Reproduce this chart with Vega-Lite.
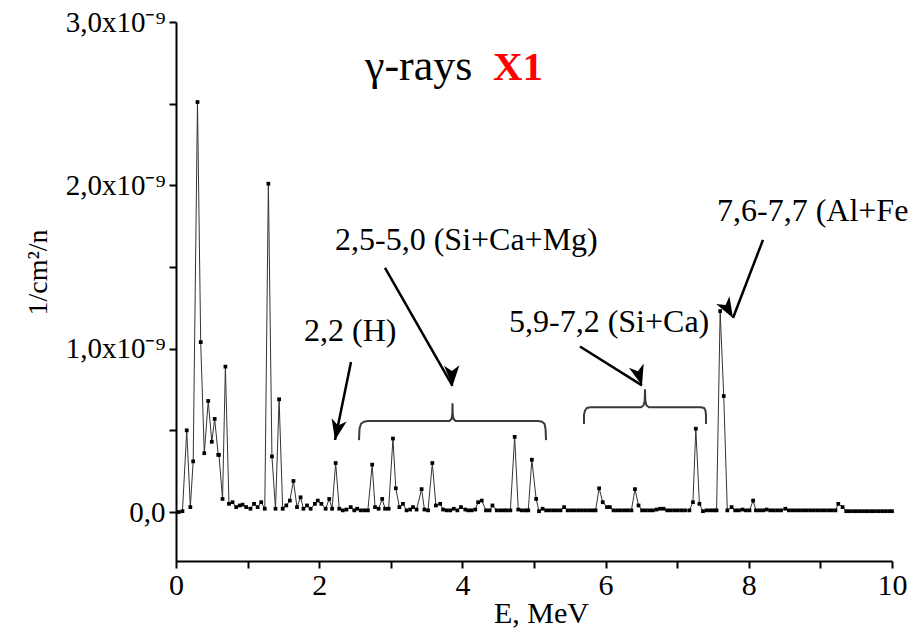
{
  "$schema": "https://vega.github.io/schema/vega-lite/v6.json",
  "width": 716,
  "height": 539,
  "autosize": {"type": "none"},
  "padding": {"left": 176, "top": 22, "right": 16, "bottom": 69},
  "background": "#ffffff",
  "config": {
    "view": {"stroke": null},
    "font": "Liberation Serif",
    "axis": {
      "grid": false,
      "domainColor": "#000000",
      "domainWidth": 2,
      "tickColor": "#000000",
      "tickWidth": 2,
      "tickSize": 7,
      "labelFont": "Liberation Serif",
      "labelColor": "#000000",
      "labelFlush": false,
      "labelOverlap": false,
      "titleFont": "Liberation Serif",
      "titleColor": "#000000",
      "titleFontWeight": "normal"
    }
  },
  "datasets": {
    "spectrum": [
      {"E": 0.04, "F": 0}, {"E": 0.09, "F": 5e-12}, {"E": 0.15, "F": 5.0e-10}, {"E": 0.2, "F": 3e-11},
      {"E": 0.24, "F": 3.1e-10}, {"E": 0.3, "F": 2.51e-9}, {"E": 0.345, "F": 1.04e-9}, {"E": 0.395, "F": 3.6e-10},
      {"E": 0.45, "F": 6.8e-10}, {"E": 0.5, "F": 4.3e-10}, {"E": 0.54, "F": 5.7e-10}, {"E": 0.59, "F": 3.5e-10},
      {"E": 0.6, "F": 3.5e-10}, {"E": 0.65, "F": 8e-11}, {"E": 0.69, "F": 8.9e-10}, {"E": 0.74, "F": 5e-11},
      {"E": 0.79, "F": 6e-11}, {"E": 0.84, "F": 3e-11}, {"E": 0.89, "F": 4e-11}, {"E": 0.93, "F": 4.5e-11},
      {"E": 0.98, "F": 3e-11}, {"E": 1.04, "F": 2e-11}, {"E": 1.09, "F": 5e-11}, {"E": 1.14, "F": 3e-11},
      {"E": 1.19, "F": 6e-11}, {"E": 1.24, "F": 2e-11}, {"E": 1.29, "F": 2.01e-9}, {"E": 1.34, "F": 3.4e-10},
      {"E": 1.39, "F": 2e-11}, {"E": 1.44, "F": 6.9e-10}, {"E": 1.49, "F": 2e-11}, {"E": 1.54, "F": 4e-11},
      {"E": 1.59, "F": 7e-11}, {"E": 1.64, "F": 1.9e-10}, {"E": 1.69, "F": 3e-11}, {"E": 1.74, "F": 9e-11},
      {"E": 1.78, "F": 2e-11}, {"E": 1.83, "F": 4e-11}, {"E": 1.88, "F": 2e-11}, {"E": 1.94, "F": 5e-11},
      {"E": 1.98, "F": 7e-11}, {"E": 2.03, "F": 5e-11}, {"E": 2.09, "F": 2e-11}, {"E": 2.14, "F": 8e-11},
      {"E": 2.18, "F": 2e-11}, {"E": 2.23, "F": 3.0e-10}, {"E": 2.28, "F": 2e-11}, {"E": 2.33, "F": 1e-11},
      {"E": 2.38, "F": 1.5e-11}, {"E": 2.44, "F": 3e-11}, {"E": 2.49, "F": 1e-11}, {"E": 2.53, "F": 2e-11},
      {"E": 2.58, "F": 1e-11}, {"E": 2.63, "F": 1e-11}, {"E": 2.68, "F": 1e-11}, {"E": 2.74, "F": 2.9e-10},
      {"E": 2.78, "F": 3e-11}, {"E": 2.83, "F": 2e-11}, {"E": 2.88, "F": 8e-11}, {"E": 2.92, "F": 2e-11},
      {"E": 2.97, "F": 2e-11}, {"E": 3.03, "F": 4.5e-10}, {"E": 3.07, "F": 1.45e-10}, {"E": 3.12, "F": 3e-11},
      {"E": 3.17, "F": 5e-11}, {"E": 3.22, "F": 1e-11}, {"E": 3.27, "F": 1.5e-11}, {"E": 3.31, "F": 3e-11},
      {"E": 3.36, "F": 1.5e-11}, {"E": 3.43, "F": 1.4e-10}, {"E": 3.47, "F": 1.5e-11}, {"E": 3.52, "F": 1e-11},
      {"E": 3.58, "F": 3.0e-10}, {"E": 3.63, "F": 4e-11}, {"E": 3.69, "F": 5e-11}, {"E": 3.73, "F": 1.5e-11},
      {"E": 3.78, "F": 1e-11}, {"E": 3.83, "F": 1e-11}, {"E": 3.88, "F": 2e-11}, {"E": 3.93, "F": 1e-11},
      {"E": 3.98, "F": 3e-11}, {"E": 4.04, "F": 1.5e-11}, {"E": 4.08, "F": 1e-11}, {"E": 4.13, "F": 1e-11},
      {"E": 4.18, "F": 1.5e-11}, {"E": 4.22, "F": 6e-11}, {"E": 4.27, "F": 7e-11}, {"E": 4.33, "F": 1e-11},
      {"E": 4.38, "F": 1e-11}, {"E": 4.42, "F": 4e-11}, {"E": 4.48, "F": 1e-11}, {"E": 4.53, "F": 1e-11},
      {"E": 4.58, "F": 1e-11}, {"E": 4.62, "F": 1e-11}, {"E": 4.67, "F": 1e-11}, {"E": 4.73, "F": 4.6e-10},
      {"E": 4.78, "F": 1.5e-11}, {"E": 4.83, "F": 1e-11}, {"E": 4.88, "F": 1e-11}, {"E": 4.92, "F": 1e-11},
      {"E": 4.97, "F": 3.2e-10}, {"E": 5.03, "F": 8e-11}, {"E": 5.07, "F": 5e-12}, {"E": 5.12, "F": 2e-11},
      {"E": 5.17, "F": 1e-11}, {"E": 5.22, "F": 1e-11}, {"E": 5.27, "F": 1e-11}, {"E": 5.32, "F": 1e-11},
      {"E": 5.37, "F": 1e-11}, {"E": 5.42, "F": 3e-11}, {"E": 5.47, "F": 1e-11}, {"E": 5.52, "F": 1e-11},
      {"E": 5.57, "F": 1e-11}, {"E": 5.62, "F": 1e-11}, {"E": 5.67, "F": 1e-11}, {"E": 5.72, "F": 1e-11},
      {"E": 5.77, "F": 1e-11}, {"E": 5.82, "F": 1e-11}, {"E": 5.86, "F": 1e-11}, {"E": 5.91, "F": 1.45e-10},
      {"E": 5.96, "F": 6e-11}, {"E": 6.02, "F": 3e-11}, {"E": 6.06, "F": 3e-11}, {"E": 6.11, "F": 1e-11},
      {"E": 6.16, "F": 1e-11}, {"E": 6.21, "F": 1e-11}, {"E": 6.26, "F": 1e-11}, {"E": 6.31, "F": 1e-11},
      {"E": 6.36, "F": 1e-11}, {"E": 6.41, "F": 1.4e-10}, {"E": 6.46, "F": 4e-11}, {"E": 6.51, "F": 1e-11},
      {"E": 6.56, "F": 1e-11}, {"E": 6.61, "F": 1e-11}, {"E": 6.66, "F": 1e-11}, {"E": 6.71, "F": 1.5e-11},
      {"E": 6.76, "F": 2e-11}, {"E": 6.81, "F": 2e-11}, {"E": 6.86, "F": 1e-11}, {"E": 6.91, "F": 1e-11},
      {"E": 6.96, "F": 1e-11}, {"E": 7.01, "F": 1e-11}, {"E": 7.06, "F": 1e-11}, {"E": 7.11, "F": 1e-11},
      {"E": 7.17, "F": 1e-11}, {"E": 7.22, "F": 6e-11}, {"E": 7.26, "F": 5.1e-10}, {"E": 7.31, "F": 5e-11},
      {"E": 7.36, "F": 5e-12}, {"E": 7.41, "F": 1e-11}, {"E": 7.46, "F": 1e-11}, {"E": 7.51, "F": 1e-11},
      {"E": 7.55, "F": 1e-11}, {"E": 7.6, "F": 1.23e-9}, {"E": 7.65, "F": 7.1e-10}, {"E": 7.7, "F": 1e-11},
      {"E": 7.76, "F": 3e-11}, {"E": 7.81, "F": 1e-11}, {"E": 7.86, "F": 1e-11}, {"E": 7.91, "F": 1.5e-11},
      {"E": 7.96, "F": 1e-11}, {"E": 8.01, "F": 1e-11}, {"E": 8.06, "F": 7e-11}, {"E": 8.1, "F": 1e-11},
      {"E": 8.15, "F": 1e-11}, {"E": 8.2, "F": 1e-11}, {"E": 8.25, "F": 1.5e-11}, {"E": 8.3, "F": 1e-11},
      {"E": 8.35, "F": 1e-11}, {"E": 8.4, "F": 1e-11}, {"E": 8.45, "F": 1e-11}, {"E": 8.51, "F": 2e-11},
      {"E": 8.56, "F": 1e-11}, {"E": 8.61, "F": 1e-11}, {"E": 8.66, "F": 1e-11}, {"E": 8.71, "F": 1e-11},
      {"E": 8.76, "F": 1e-11}, {"E": 8.81, "F": 1e-11}, {"E": 8.86, "F": 1e-11}, {"E": 8.91, "F": 1e-11},
      {"E": 8.96, "F": 1e-11}, {"E": 9.01, "F": 1e-11}, {"E": 9.06, "F": 1e-11}, {"E": 9.11, "F": 1e-11},
      {"E": 9.16, "F": 1e-11}, {"E": 9.21, "F": 1e-11}, {"E": 9.25, "F": 5e-11}, {"E": 9.31, "F": 3e-11},
      {"E": 9.36, "F": 5e-12}, {"E": 9.41, "F": 5e-12}, {"E": 9.46, "F": 5e-12}, {"E": 9.51, "F": 5e-12},
      {"E": 9.56, "F": 5e-12}, {"E": 9.61, "F": 5e-12}, {"E": 9.66, "F": 5e-12}, {"E": 9.71, "F": 5e-12},
      {"E": 9.76, "F": 5e-12}, {"E": 9.81, "F": 5e-12}, {"E": 9.86, "F": 5e-12}, {"E": 9.91, "F": 5e-12},
      {"E": 9.96, "F": 5e-12}, {"E": 10.0, "F": 5e-12}
    ],
    "braces": [
      {"brace": "a", "k": 1, "E": 2.556, "F": 4.4e-10},
      {"brace": "a", "k": 2, "E": 2.563, "F": 5.1e-10},
      {"brace": "a", "k": 3, "E": 2.584, "F": 5.4e-10},
      {"brace": "a", "k": 4, "E": 2.626, "F": 5.53e-10},
      {"brace": "a", "k": 5, "E": 2.682, "F": 5.57e-10},
      {"brace": "a", "k": 6, "E": 3.817, "F": 5.57e-10},
      {"brace": "a", "k": 7, "E": 3.848, "F": 5.7e-10},
      {"brace": "a", "k": 8, "E": 3.859, "F": 5.97e-10},
      {"brace": "a", "k": 9, "E": 3.862, "F": 6.66e-10},
      {"brace": "a", "k": 10, "E": 3.865, "F": 5.97e-10},
      {"brace": "a", "k": 11, "E": 3.876, "F": 5.7e-10},
      {"brace": "a", "k": 12, "E": 3.906, "F": 5.57e-10},
      {"brace": "a", "k": 13, "E": 5.06, "F": 5.57e-10},
      {"brace": "a", "k": 14, "E": 5.112, "F": 5.53e-10},
      {"brace": "a", "k": 15, "E": 5.147, "F": 5.4e-10},
      {"brace": "a", "k": 16, "E": 5.161, "F": 5.1e-10},
      {"brace": "a", "k": 17, "E": 5.168, "F": 4.4e-10},
      {"brace": "b", "k": 1, "E": 5.698, "F": 5.39e-10},
      {"brace": "b", "k": 2, "E": 5.698, "F": 5.94e-10},
      {"brace": "b", "k": 3, "E": 5.712, "F": 6.21e-10},
      {"brace": "b", "k": 4, "E": 5.74, "F": 6.37e-10},
      {"brace": "b", "k": 5, "E": 5.782, "F": 6.41e-10},
      {"brace": "b", "k": 6, "E": 6.494, "F": 6.41e-10},
      {"brace": "b", "k": 7, "E": 6.529, "F": 6.52e-10},
      {"brace": "b", "k": 8, "E": 6.546, "F": 6.8e-10},
      {"brace": "b", "k": 9, "E": 6.55, "F": 7.52e-10},
      {"brace": "b", "k": 10, "E": 6.555, "F": 6.8e-10},
      {"brace": "b", "k": 11, "E": 6.571, "F": 6.52e-10},
      {"brace": "b", "k": 12, "E": 6.606, "F": 6.41e-10},
      {"brace": "b", "k": 13, "E": 7.332, "F": 6.41e-10},
      {"brace": "b", "k": 14, "E": 7.374, "F": 6.37e-10},
      {"brace": "b", "k": 15, "E": 7.395, "F": 6.21e-10},
      {"brace": "b", "k": 16, "E": 7.402, "F": 5.94e-10},
      {"brace": "b", "k": 17, "E": 7.402, "F": 5.39e-10}
    ],
    "arrows": [
      {"id": "H", "E": 2.444, "F": 9.19e-10, "E2": 2.221, "F2": 4.41e-10},
      {"id": "SiCaMg", "E": 2.919, "F": 1.494e-9, "E2": 3.862, "F2": 7.72e-10},
      {"id": "SiCa", "E": 5.642, "F": 1.013e-9, "E2": 6.508, "F2": 7.75e-10},
      {"id": "AlFe", "E": 8.198, "F": 1.666e-9, "E2": 7.779, "F2": 1.188e-9}
    ],
    "notes": [
      {"E": 1.788, "F": 1.047e-9, "label": "2,2 (H)"},
      {"E": 2.221, "F": 1.604e-9, "label": "2,5-5,0 (Si+Ca+Mg)"},
      {"E": 4.651, "F": 1.102e-9, "label": "5,9-7,2 (Si+Ca)"},
      {"E": 7.556, "F": 1.782e-9, "label": "7,6-7,7 (Al+Fe)"}
    ],
    "heading": [
      {"E": 2.64, "F": 2.645e-9, "label": "γ-rays", "part": "kind"},
      {"E": 4.427, "F": 2.645e-9, "label": "X1", "part": "sample"}
    ]
  },
  "layer": [
    {
      "data": {"name": "spectrum"},
      "mark": {"type": "line", "color": "#333333", "strokeWidth": 1},
      "encoding": {
        "x": {
          "field": "E",
          "type": "quantitative",
          "scale": {"domain": [0, 10], "nice": false, "zero": false},
          "axis": {
            "title": "E, MeV",
            "values": [0, 1, 2, 3, 4, 5, 6, 7, 8, 9, 10],
            "labelExpr": "datum.value % 2 == 0 ? format(datum.value, 'd') : ''",
            "labelFontSize": 30,
            "labelPadding": 2,
            "titleFontSize": 30,
            "titleX": 365,
            "titleY": 61,
            "titleAnchor": null,
            "titleAlign": "center",
            "titleBaseline": "alphabetic"
          }
        },
        "y": {
          "field": "F",
          "type": "quantitative",
          "scale": {"domain": [-3e-10, 3e-9], "nice": false, "zero": false},
          "axis": {
            "title": "1/cm²/n",
            "values": [0, 5e-10, 1e-9, 1.5e-9, 2e-9, 2.5e-9, 3e-9],
            "labelExpr": "datum.value == 0 ? '0,0' : (abs(datum.value * 1e9 - round(datum.value * 1e9)) < 1e-6 ? replace(format(datum.value * 1e9, '.1f'), '.', ',') + 'x10⁻⁹' : '')",
            "labelFontSize": 29,
            "labelPadding": 4,
            "titleFontSize": 28,
            "titleAngle": -90,
            "titleX": -138,
            "titleY": 250,
            "titleAlign": "center",
            "titleBaseline": "middle"
          }
        }
      }
    },
    {
      "data": {"name": "spectrum"},
      "mark": {"type": "point", "shape": "square", "filled": true, "size": 14, "color": "#000000", "opacity": 1},
      "encoding": {
        "x": {"field": "E", "type": "quantitative"},
        "y": {"field": "F", "type": "quantitative"}
      }
    },
    {
      "data": {"name": "braces"},
      "mark": {"type": "line", "color": "#3a3a3a", "strokeWidth": 2},
      "encoding": {
        "x": {"field": "E", "type": "quantitative"},
        "y": {"field": "F", "type": "quantitative"},
        "detail": {"field": "brace"},
        "order": {"field": "k", "type": "quantitative"}
      }
    },
    {
      "data": {"name": "arrows"},
      "mark": {"type": "rule", "color": "#000000", "strokeWidth": 2.5},
      "encoding": {
        "x": {"field": "E", "type": "quantitative"},
        "y": {"field": "F", "type": "quantitative"},
        "x2": {"field": "E2"},
        "y2": {"field": "F2"}
      }
    },
    {
      "data": {"name": "arrows"},
      "mark": {"type": "point", "shape": "M0,0 L0.75,2 L0,1.45 L-0.75,2 Z", "filled": true, "size": 420, "color": "#000000", "opacity": 1},
      "encoding": {
        "x": {"field": "E2", "type": "quantitative"},
        "y": {"field": "F2", "type": "quantitative"},
        "angle": {
          "field": "id",
          "type": "nominal",
          "scale": {"domain": ["H", "SiCaMg", "SiCa", "AlFe"], "range": [191.6, 150.2, 122.2, 201]},
          "legend": null
        }
      }
    },
    {
      "data": {"name": "notes"},
      "mark": {"type": "text", "align": "left", "baseline": "alphabetic", "font": "Liberation Serif", "fontSize": 32, "color": "#000000"},
      "encoding": {
        "x": {"field": "E", "type": "quantitative"},
        "y": {"field": "F", "type": "quantitative"},
        "text": {"field": "label"}
      }
    },
    {
      "data": {"name": "heading"},
      "transform": [{"filter": "datum.part == 'kind'"}],
      "mark": {"type": "text", "align": "left", "baseline": "alphabetic", "font": "Liberation Serif", "fontSize": 44, "color": "#000000"},
      "encoding": {
        "x": {"field": "E", "type": "quantitative"},
        "y": {"field": "F", "type": "quantitative"},
        "text": {"field": "label"}
      }
    },
    {
      "data": {"name": "heading"},
      "transform": [{"filter": "datum.part == 'sample'"}],
      "mark": {"type": "text", "align": "left", "baseline": "alphabetic", "font": "Liberation Serif", "fontSize": 41, "fontWeight": "bold", "color": "#ff0000"},
      "encoding": {
        "x": {"field": "E", "type": "quantitative"},
        "y": {"field": "F", "type": "quantitative"},
        "text": {"field": "label"}
      }
    }
  ]
}
